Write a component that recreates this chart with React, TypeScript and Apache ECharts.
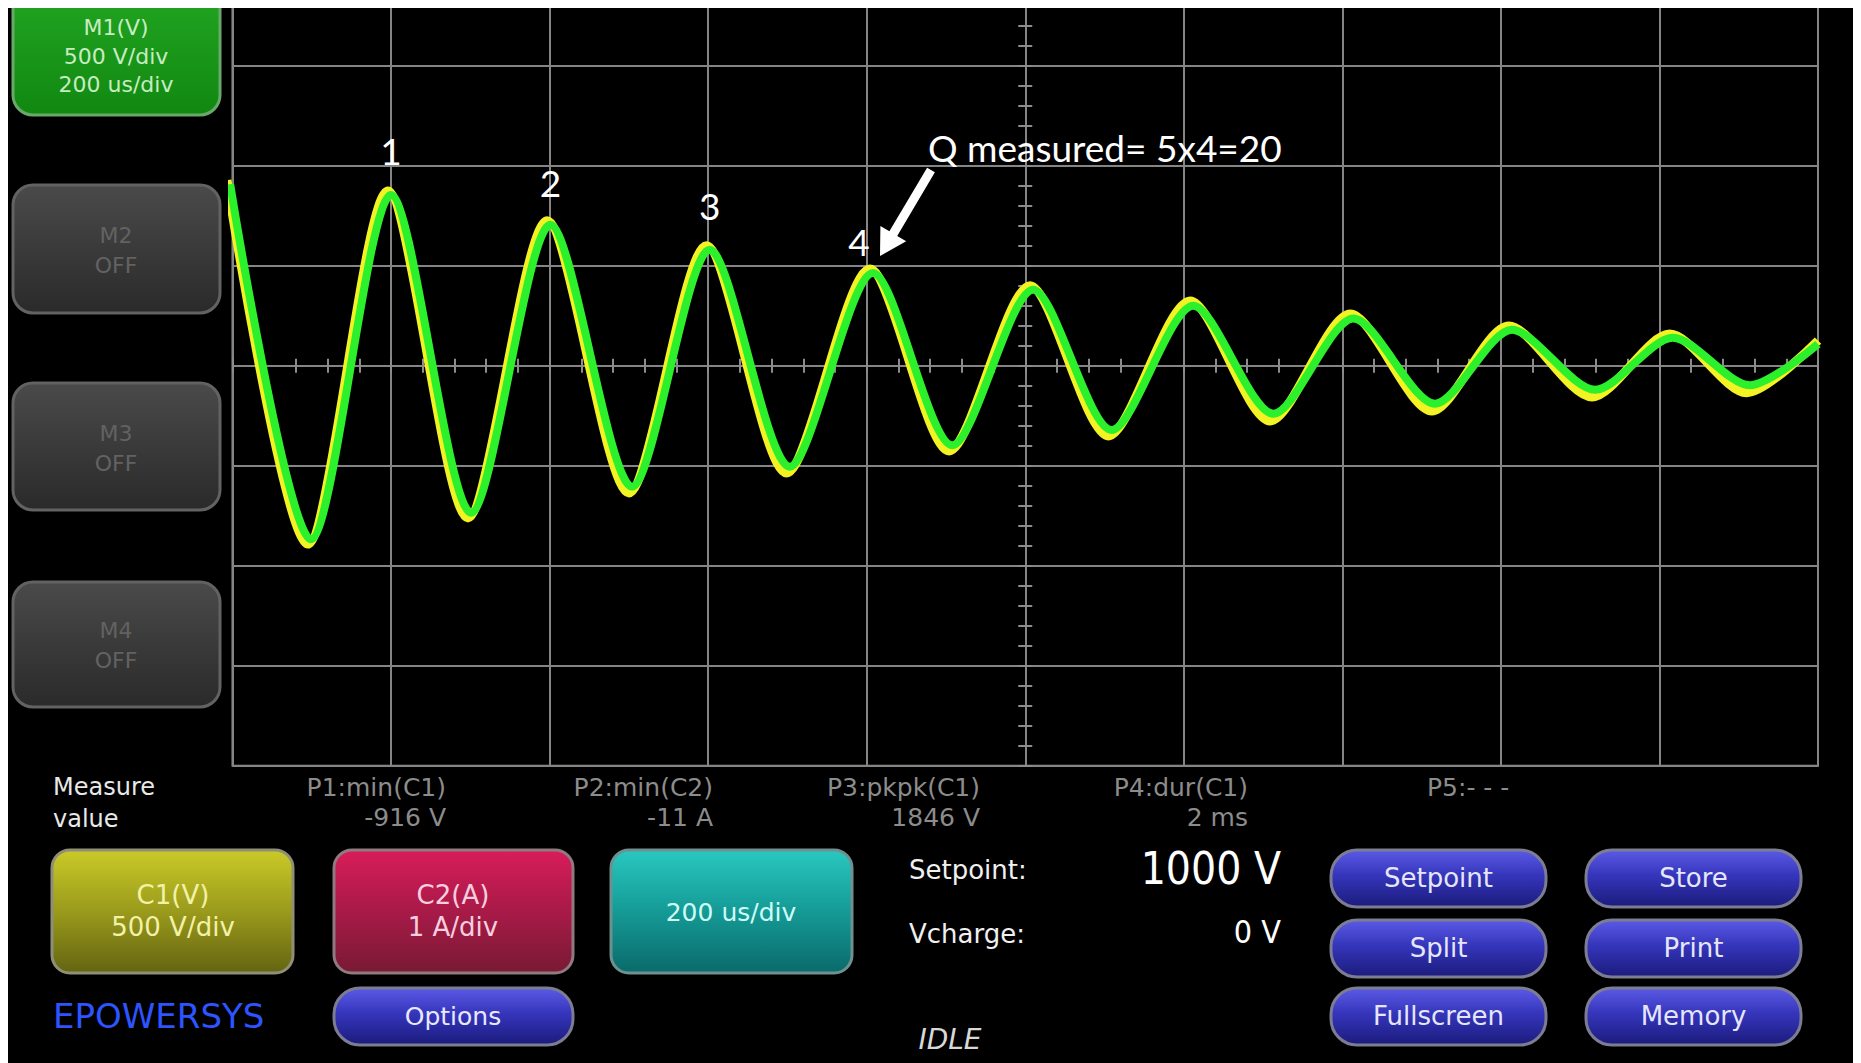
import React, { useEffect, useRef } from "react";
import * as echarts from "echarts";

// ---- waveform data (time in us relative to screen centre, value in V) ----
const m1TimeUs = [-1003, -901, -800, -699, -599, -496, -398, -297, -192, -92, 10, 109, 212, 313, 414, 517, 614, 719, 817, 914, 1000];
const m1Volts = [908, -868, 853, -735, 705, -605, 580, -505, 463, -398, 380, -322, 300, -240, 236, -190, 180, -120, 140, -98, 108];
const c1TimeUs = [-1007, -905, -804, -703, -603, -500, -402, -301, -196, -96, 6, 105, 208, 309, 410, 513, 610, 715, 813, 910, 1000];
const c1Volts = [928, -892, 873, -761, 725, -636, 600, -536, 483, -426, 400, -351, 323, -276, 258, -226, 198, -156, 158, -135, 125];

// peak labels (index into the M1 arrays)
const peakLabels = ["1", "2", "3", "4"];
const peakIndex = [2, 4, 6, 8];
const annotationText = "Q measured= 5x4=20";

// axis scale: 500 V/div, 200 us/div
const timeMin = -1000;
const timeMax = 1000;
const timeDiv = 200;
const voltMin = -2000;
const voltMax = 2000;
const voltDiv = 500;

// ---- UI texts ----
const mathButtons = [
  ["M1(V)", "500 V/div", "200 us/div"],
  ["M2", "OFF"],
  ["M3", "OFF"],
  ["M4", "OFF"],
];
const measureNames = ["P1:min(C1)", "P2:min(C2)", "P3:pkpk(C1)", "P4:dur(C1)"];
const measureValues = ["-916 V", "-11 A", "1846 V", "2 ms"];
const measureP5 = "P5:- - -";
const channelButtons = [
  ["C1(V)", "500 V/div"],
  ["C2(A)", "1 A/div"],
];
const timebaseText = "200 us/div";
const setpointLabels = ["Setpoint:", "Vcharge:"];
const setpointValues = ["1000 V", "0 V"];
const rightButtons = [
  ["Setpoint", "Store"],
  ["Split", "Print"],
  ["Fullscreen", "Memory"],
];

const UI_FONT = '"DejaVu Sans", "Liberation Sans", sans-serif';
const COND_FONT = '"DejaVu Sans Condensed", "DejaVu Sans", sans-serif';
const NOTE_FONT = 'Lato, "Open Sans", sans-serif';

function grad(stops: [number, string][]) {
  return new echarts.graphic.LinearGradient(
    0, 0, 0, 1,
    stops.map(([offset, color]) => ({ offset, color }))
  );
}

function btn(x: number, y: number, w: number, h: number, r: number, fill: any, stroke: string) {
  return {
    type: "rect",
    silent: true,
    z: 90,
    shape: { x, y, width: w, height: h, r },
    style: { fill, stroke, lineWidth: 3 },
  };
}

function txt(
  text: string, x: number, y: number, size: number, color: string,
  align: string = "center", family: string = UI_FONT, fontStyle: string = "normal"
) {
  return {
    type: "text",
    silent: true,
    z: 100,
    x,
    y,
    style: {
      text,
      fill: color,
      fontSize: size,
      fontFamily: family,
      fontStyle,
      textAlign: align,
      textVerticalAlign: "middle",
    },
  };
}

function buildGraphic() {
  const els: any[] = [];
  const grayFill = () => grad([[0, "#4a4a4a"], [1, "#2a2a2a"]]);
  const blueFill = () => grad([[0, "#5a5ae6"], [0.45, "#3535bb"], [1, "#1b1b7c"]]);

  // left math buttons
  const mRects = [
    [-22, 129],
    [177, 128],
    [375, 127],
    [574, 125],
  ];
  mRects.forEach(([y, h], i) => {
    if (i === 0) {
      els.push(btn(5, y, 207, h, 20, grad([[0, "#22a622"], [1, "#118811"]]), "#6aa86a"));
    } else {
      els.push(btn(5, y, 207, h, 20, grayFill(), "#626262"));
    }
  });
  els.push(txt(mathButtons[0][0], 108, 19, 22, "#c6ecc0"));
  els.push(txt(mathButtons[0][1], 108, 48, 22, "#c6ecc0"));
  els.push(txt(mathButtons[0][2], 108, 76, 22, "#c6ecc0"));
  [[227, 257], [425, 455], [622, 652]].forEach(([y1, y2], i) => {
    els.push(txt(mathButtons[i + 1][0], 108, y1, 22, "#626262"));
    els.push(txt(mathButtons[i + 1][1], 108, y2, 22, "#626262"));
  });

  // measurement row
  els.push(txt("Measure", 45, 779, 24, "#e8e8e8", "left"));
  els.push(txt("value", 45, 811, 24, "#e8e8e8", "left"));
  const mRight = [438, 705, 972, 1240];
  measureNames.forEach((n, i) => {
    els.push(txt(n, mRight[i], 779, 25, "#8c8c8c", "right"));
    els.push(txt(measureValues[i], mRight[i], 809, 25, "#8c8c8c", "right"));
  });
  els.push(txt(measureP5, 1419, 779, 25, "#8c8c8c", "left"));

  // channel buttons
  els.push(btn(44, 842, 241, 123, 18, grad([[0, "#caca28"], [0.5, "#9a9a1c"], [1, "#646412"]]), "#8f8f78"));
  els.push(btn(326, 842, 239, 123, 18, grad([[0, "#d81c5a"], [0.5, "#a81a48"], [1, "#781a34"]]), "#8e7a80"));
  els.push(btn(603, 842, 241, 123, 18, grad([[0, "#28c8c0"], [0.5, "#159a96"], [1, "#0a6a6a"]]), "#6f9090"));
  els.push(txt(channelButtons[0][0], 165, 887, 26, "#f2f2a6"));
  els.push(txt(channelButtons[0][1], 165, 919, 26, "#f2f2a6"));
  els.push(txt(channelButtons[1][0], 445, 887, 26, "#f8cede"));
  els.push(txt(channelButtons[1][1], 445, 919, 26, "#f8cede"));
  els.push(txt(timebaseText, 723, 904, 25, "#cffcf6"));

  // options + logo
  els.push(btn(326, 980, 239, 57, 26, blueFill(), "#7c7c92"));
  els.push(txt("Options", 445, 1008, 25, "#e8e8ff"));
  els.push(txt("EPOWERSYS", 45, 1008, 34, "#2c54ff", "left"));

  // setpoint
  els.push(txt(setpointLabels[0], 901, 862, 26, "#f0f0f0", "left"));
  els.push(txt(setpointLabels[1], 901, 926, 26, "#f0f0f0", "left"));
  els.push(txt(setpointValues[0], 1273, 860, 44, "#ffffff", "right", COND_FONT));
  els.push(txt(setpointValues[1], 1273, 924, 32, "#ffffff", "right", COND_FONT));

  // right buttons
  const rowsY = [842, 912, 980];
  const colsX = [1323, 1578];
  rightButtons.forEach((row, r) => {
    row.forEach((label, c) => {
      els.push(btn(colsX[c], rowsY[r], 215, 57, 26, blueFill(), "#7c7c92"));
      els.push(txt(label, colsX[c] + 107.5, rowsY[r] + 28, 26, "#e6e6fa"));
    });
  });

  els.push(txt("IDLE", 942, 1031, 28, "#d8d8d8", "center", UI_FONT, "italic"));

  // annotation
  els.push(txt(annotationText, 920, 139, 37, "#ffffff", "left", NOTE_FONT));
  els.push({
    type: "polygon",
    silent: true,
    z: 100,
    shape: {
      points: [
        [919.1, 159.7], [926.9, 164.3], [889.2, 227.9], [898.2, 233.2],
        [872, 248], [872.4, 217.9], [881.4, 223.3],
      ],
    },
    style: { fill: "#ffffff" },
  });
  return els;
}

function buildOption() {
  const gridLine = { show: true, lineStyle: { color: "#858585", width: 2 } };
  const tickStyle = { color: "#8c8c8c", width: 2 };
  const hidden = { show: false };
  const centreX = (inside: boolean) => ({
    type: "value",
    min: timeMin,
    max: timeMax,
    interval: timeDiv / 5,
    position: "bottom",
    axisLine: { show: false, onZero: true, onZeroAxisIndex: 0 },
    axisTick: { show: true, inside, length: 7, lineStyle: tickStyle },
    axisLabel: hidden,
    splitLine: hidden,
  });
  const centreY = (inside: boolean) => ({
    type: "value",
    min: voltMin,
    max: voltMax,
    interval: voltDiv / 5,
    position: "left",
    axisLine: { show: false, onZero: true, onZeroAxisIndex: 0 },
    axisTick: { show: true, inside, length: 7, lineStyle: tickStyle },
    axisLabel: hidden,
    splitLine: hidden,
  });

  const m1Data = m1TimeUs.map((t, i) => [t, m1Volts[i]]);
  const c1Data = c1TimeUs.map((t, i) => [t, c1Volts[i]]);
  const labelOffsets = [[0, -45], [0, -42], [0, -44], [-14, -32]];

  return {
    animation: false,
    backgroundColor: "#000000",
    grid: {
      left: 224.5,
      right: 43,
      top: -42.3,
      bottom: 297.3,
      show: true,
      borderColor: "#8f8f8f",
      borderWidth: 2,
      containLabel: false,
      outerBoundsMode: "none",
    },
    xAxis: [
      {
        type: "value",
        min: timeMin,
        max: timeMax,
        interval: timeDiv,
        axisLine: { show: false },
        axisTick: hidden,
        axisLabel: hidden,
        splitLine: gridLine,
      },
      centreX(true),
      centreX(false),
    ],
    yAxis: [
      {
        type: "value",
        min: voltMin,
        max: voltMax,
        interval: voltDiv,
        axisLine: { show: false },
        axisTick: hidden,
        axisLabel: hidden,
        splitLine: gridLine,
      },
      centreY(true),
      centreY(false),
    ],
    series: [
      {
        type: "line",
        name: "C1",
        data: c1Data,
        smooth: 0.28,
        symbol: "none",
        z: 3,
        lineStyle: { color: "#f3f324", width: 9 },
      },
      {
        type: "line",
        name: "M1",
        data: m1Data,
        smooth: 0.28,
        symbol: "none",
        z: 4,
        lineStyle: { color: "#2cf02c", width: 8 },
        markPoint: {
          symbol: "circle",
          symbolSize: 2,
          itemStyle: { color: "rgba(0,0,0,0)" },
          label: {
            show: true,
            color: "#ffffff",
            fontFamily: NOTE_FONT,
            fontSize: 37,
            formatter: "{b}",
          },
          data: peakLabels.map((name, k) => ({
            name,
            coord: [m1TimeUs[peakIndex[k]], m1Volts[peakIndex[k]]],
            label: { offset: labelOffsets[k] },
          })),
        },
      },
    ],
    graphic: buildGraphic(),
  };
}

export default function App() {
  const ref = useRef<HTMLDivElement>(null);
  useEffect(() => {
    document.documentElement.style.overflow = "hidden";
    document.body.style.overflow = "hidden";
    const chart = echarts.init(ref.current as HTMLDivElement, null, { renderer: "svg" });
    chart.setOption(buildOption() as any);
    return () => chart.dispose();
  }, []);
  return <div ref={ref} style={{ width: 1853, height: 1055, background: "#000" }} />;
}
